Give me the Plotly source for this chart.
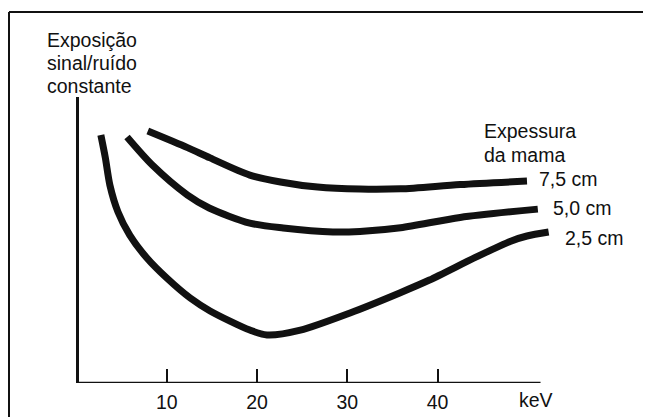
import plotly.graph_objects as go

# Data (x in keV, y in arbitrary exposure units, 0-100)
kev_25 = [2.7, 3.2, 3.7, 4.6, 5.9, 7.8, 10.0, 12.6, 14.8, 19.2, 21.1, 24.8, 30.3, 35.8, 39.1, 44.3, 48.1, 49.9, 52.3]
exp_25 = [86.7, 78.7, 69.2, 59.8, 51.7, 43.7, 36.7, 29.7, 25.2, 18.5, 16.8, 18.5, 24.5, 31.5, 36.0, 44.1, 49.6, 51.4, 52.8]

kev_50 = [5.6, 8.4, 12.3, 14.7, 19.2, 22.9, 28.4, 31.4, 35.9, 42.5, 51.1]
exp_50 = [86.0, 76.2, 65.7, 61.2, 55.9, 54.2, 52.8, 53.0, 54.3, 57.9, 60.8]

kev_75 = [7.9, 12.3, 14.8, 19.2, 22.6, 26.7, 31.4, 35.9, 42.5, 49.9]
exp_75 = [88.1, 82.3, 78.7, 72.7, 70.3, 68.5, 67.8, 67.9, 69.4, 70.6]

series_labels = ["7,5 cm", "5,0 cm", "2,5 cm"]
tick_vals = [10, 20, 30, 40]
tick_text = ["10", "20", "30", "40"]

# page body has an 8px margin; figure is sized and offset to compensate
OFF = 8
W, H = 655 - OFF, 417 - OFF
ML, MR, MT, MB = 79 - OFF, 91, 97 - OFF, 34
X0, X1 = 0.28, 54.0
AX_END = 51.4
FONT = "Liberation Sans, Arial, sans-serif"
FS = 19.5
INK = "#111111"

pw = W - ML - MR
ph = H - MT - MB


def px_x(p):
    return (p - OFF - ML) / pw


def px_y(p):
    return (H - MB - (p - OFF)) / ph


fig = go.Figure()
for xs, ys in [(kev_75, exp_75), (kev_50, exp_50), (kev_25, exp_25)]:
    fig.add_trace(go.Scatter(x=xs, y=ys, mode="lines",
                             line=dict(color=INK, width=7, shape="spline", smoothing=0.8),
                             showlegend=False, hoverinfo="skip"))

fig.update_layout(
    width=W, height=H,
    margin=dict(l=ML, r=MR, t=MT, b=MB, pad=0, autoexpand=False),
    paper_bgcolor="white", plot_bgcolor="white",
    font=dict(family=FONT, size=FS, color=INK),
    xaxis=dict(range=[X0, X1], showgrid=False, zeroline=False, showline=False,
               tickvals=tick_vals, ticktext=tick_text, ticks="inside", ticklen=14,
               tickwidth=2, tickcolor=INK, ticklabelstandoff=5, automargin=False,
               tickfont=dict(size=FS, family=FONT, color=INK)),
    yaxis=dict(range=[0, 100], showgrid=False, zeroline=False, showline=True,
               linecolor=INK, linewidth=2.5, ticks="", showticklabels=False,
               automargin=False),
)

shapes = [
    # x-axis line
    dict(type="line", xref="x", yref="y", x0=X0, x1=AX_END, y0=0, y1=0,
         line=dict(color=INK, width=2.5)),
    # scanned frame (top and left edges)
    dict(type="line", xref="paper", yref="paper", x0=px_x(9), x1=px_x(643),
         y0=px_y(12), y1=px_y(12), line=dict(color=INK, width=2)),
    dict(type="line", xref="paper", yref="paper", x0=px_x(9), x1=px_x(9),
         y0=px_y(12), y1=px_y(417), line=dict(color=INK, width=2)),
]
fig.update_layout(shapes=shapes)

annots = [
    ("Exposição", 45, 40),
    ("sinal/ruído", 45, 63),
    ("constante", 45, 86),
    ("Expessura", 482, 131),
    ("da mama", 482, 155),
    (series_labels[0], 537, 179),
    (series_labels[1], 551, 208),
    (series_labels[2], 563, 238),
    ("keV", 517, 400),
]
for txt, x, y in annots:
    fig.add_annotation(text=txt, xref="paper", yref="paper", x=px_x(x), y=px_y(y),
                       xanchor="left", yanchor="middle", showarrow=False,
                       font=dict(size=FS, family=FONT, color=INK))

fig.write_html("out.html")
